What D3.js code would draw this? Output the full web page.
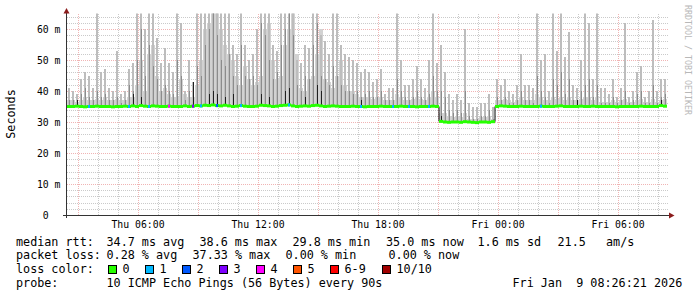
<!DOCTYPE html>
<html>
<head>
<meta charset="utf-8">
<script src="https://cdn.jsdelivr.net/npm/d3@7"></script>
<style>
  html, body { margin: 0; padding: 0; background: #fff; }
  svg text { font-family: "DejaVu Sans Mono", monospace; white-space: pre; }
</style>
</head>
<body>
<div id="chart"></div>
<script>
// 30 hours, one bin every 12 minutes (150 bins)
const startTime = new Date(Date.UTC(2026, 0, 8, 2, 27));
const endTime = new Date(Date.UTC(2026, 0, 9, 8, 27));
const binMinutes = 12;

// median rtt per bin (ms)
const medianRtt = [
  35.0,35.0,35.1,35.0,34.9,35.0,35.0,35.1,35.0,35.0,
  35.0,34.9,35.0,35.0,35.1,35.0,35.2,35.0,35.3,35.1,
  35.0,35.2,35.1,35.0,35.0,35.1,35.0,35.0,35.0,35.2,
  35.0,35.1,35.3,35.2,35.4,35.3,35.5,35.3,35.2,35.4,
  35.2,35.0,35.1,35.3,35.1,35.0,35.0,35.1,35.4,35.3,
  35.2,35.0,35.1,35.3,35.4,35.5,35.2,35.0,35.1,35.2,
  35.1,35.3,35.4,35.2,35.0,35.1,35.2,35.1,35.0,35.0,
  35.0,35.1,35.0,35.0,34.9,35.0,35.0,35.0,35.1,35.0,
  35.0,35.0,35.0,35.1,35.0,35.0,35.0,34.9,35.0,35.0,
  35.0,35.1,35.0,30.2,30.0,29.9,30.0,30.0,29.9,30.1,
  30.0,29.9,29.8,30.0,30.0,29.9,30.1,35.0,35.2,35.1,
  35.0,35.0,35.0,35.1,35.0,35.0,35.0,35.0,35.1,35.0,
  35.0,35.0,35.1,35.2,35.0,35.0,35.0,35.0,35.1,35.0,
  35.0,35.1,35.0,35.0,35.0,35.0,35.0,34.9,35.0,35.0,
  35.0,35.0,35.0,35.1,35.0,35.0,35.0,35.0,35.3,35.1
];

// dense low smoke per bin (ms)
const smokeBase = [
  37,37,36.5,37,38,37,37,37.5,37,38,
  37,37,37.5,37,37,38,38,42,50,40,
  52,55,45,40,41,39,38,38,44,39,
  38,38,42,50,60,62,66,66,60,55,
  52,50,45,42,48,44,42,43,45,60,
  62,50,44,45,55,60,66,52,41,40,
  44,45,52,60,44,43,41,45,50,42,
  40,40,39,38,38,38,37.5,38,38,37,
  37,37,39,38,37,37,37.5,38,37.5,37,
  38,40,38,33,33,32,31.5,32,31.5,33,
  31,31,31,31.5,31.5,32,31,37,37,37.5,
  37,36.5,37,38,37,37,37,39,38,37,
  37,38,37.5,38,37,38,37,37,37.5,38,
  38,37,38,36.5,36.5,36.5,37,36.5,37,37.5,
  36.5,36.5,37,37.5,36.5,36.5,37.5,36.5,37,37.5
];

// highest ping per bin (ms)
const smokeMax = [
  41,40,39,44,46,45,41,66,46,47,
  41,40,53,39,40,47,49,66,66,60,
  66,66,57,49,54,49,46,66,62,40,
  50,43,66,66,66,66,66,66,66,66,
  66,55,52,66,55,50,52,60,66,66,
  66,55,53,66,66,66,66,50,49,55,
  54,66,66,58,56,52,66,66,55,52,
  51,50,49,46,47,46,43,44,47,39,
  41,41,66,50,42,42,44,48,44,41,
  50,66,49,55,46,39,37,39,37,60,
  36,35,35,36,36,39,35,44,42,44,
  40,39,42,52,42,42,41,66,50,52,
  40,66,53,66,51,59,42,41,50,66,
  62,44,66,41,41,39,44,38,41,62,
  38,40,46,48,38,40,63,40,44,44
];

// middle ping level per bin (ms)
const smokeMid = [
  37,37,36,39,41,38,37,40,38,39,
  37,37,38,36,37,42,40,50,60,45,
  55,48,44,40,42,40,39,50,45,37,
  40,43,48,45,55,60,66,58,50,48,
  52,45,42,55,45,44,45,42,62,58,
  50,44,46,55,60,66,58,42,40,45,
  44,55,62,45,44,42,48,45,42,40,
  40,39,40,38,39,40,38,38,40,37,
  37,37,44,40,38,37,38,40,38,37,
  39,45,40,40,38,34,33,34,33,40,
  32,31,31,32,32,34,31,38,37,38,
  36,36,37,40,37,37,36,45,40,38,
  36,44,42,46,39,44,37,36,40,42,
  44,38,42,36,36,36,38,36,37,40,
  36,37,39,40,36,36,42,36,38,39
];

// dark marks just above the median
const darkBins = [2, 16, 18, 31, 35, 36, 37, 39, 41, 48, 50, 54, 55, 59, 62, 63, 73, 93, 127, 148];
const darkVals = [37, 39, 38, 43, 39, 40, 39, 38, 39, 39, 38, 40, 41, 38, 42, 40, 37, 32, 37, 37];

// bins with packet loss (index into lossColors)
const lossBins = [5, 15, 20, 25, 31, 33, 37, 43, 55, 73, 81, 85, 90, 118];
const lossCats = [1, 1, 1, 4, 3, 1, 2, 1, 1, 1, 1, 1, 1, 1];

const lossLabels = ["0", "1", "2", "3", "4", "5", "6-9", "10/10"];
const lossColors = ["#26ff00", "#00b8ff", "#0059ff", "#7e00ff", "#ff00ff", "#ff5500", "#ff0000", "#a10000"];

const yTicks = [0, 10, 20, 30, 40, 50, 60];
const yTickLabels = ["0  ", "10 m", "20 m", "30 m", "40 m", "50 m", "60 m"];

const W = 697, H = 297;
const svg = d3.select("#chart").append("svg").attr("width", W).attr("height", H);

const x = d3.scaleUtc().domain([startTime, endTime]).range([67, 667]);
const y = d3.scaleLinear().domain([0, 65]).range([215, 13.5]);

const bins = medianRtt.map((m, i) => ({
  t0: d3.utcMinute.offset(startTime, binMinutes * i),
  t1: d3.utcMinute.offset(startTime, binMinutes * (i + 1)),
  m, base: smokeBase[i], max: smokeMax[i], mid: smokeMid[i]
}));

svg.append("defs").append("clipPath").attr("id", "plot")
  .append("rect").attr("x", 67).attr("y", 13.5).attr("width", 600).attr("height", 202);

// grid
const grid = svg.append("g").attr("shape-rendering", "crispEdges");
const minorY = d3.range(0, 66, 2).filter(v => v % 10 !== 0);
grid.selectAll(".gy").data(minorY).join("line")
  .attr("x1", 67).attr("x2", 668).attr("y1", d => Math.round(y(d)) + 0.5).attr("y2", d => Math.round(y(d)) + 0.5)
  .attr("stroke", "#cacaca").attr("stroke-dasharray", "1,1");
const minorX = d3.utcHour.every(1).range(startTime, endTime).filter(d => d.getUTCHours() % 3 !== 0);
grid.selectAll(".gx").data(minorX).join("line")
  .attr("x1", d => Math.round(x(d)) + 0.5).attr("x2", d => Math.round(x(d)) + 0.5).attr("y1", 14).attr("y2", 215)
  .attr("stroke", "#cacaca").attr("stroke-dasharray", "1,1");
grid.selectAll(".my").data(yTicks.slice(1)).join("line")
  .attr("x1", 67).attr("x2", 668).attr("y1", d => Math.round(y(d)) + 0.5).attr("y2", d => Math.round(y(d)) + 0.5)
  .attr("stroke", "#f0b4b4").attr("stroke-dasharray", "1,1");
const majorX = d3.utcHour.every(3).range(startTime, endTime);
grid.selectAll(".mx").data(majorX).join("line")
  .attr("x1", d => Math.round(x(d)) + 0.5).attr("x2", d => Math.round(x(d)) + 0.5).attr("y1", 14).attr("y2", 215)
  .attr("stroke", "#f0b4b4").attr("stroke-dasharray", "1,1");

// smoke
const smoke = svg.append("g").attr("clip-path", "url(#plot)").attr("shape-rendering", "crispEdges");
smoke.selectAll(".base").data(bins).join("rect")
  .attr("x", d => x(d.t0)).attr("width", d => x(d.t1) - x(d.t0))
  .attr("y", d => y(d.base)).attr("height", d => Math.max(0, y(d.m) - y(d.base)))
  .attr("fill", "#d2d2d2");
smoke.selectAll(".max").data(bins).join("rect")
  .attr("x", d => x(d.t0) + 1).attr("width", 2)
  .attr("y", d => y(d.max)).attr("height", d => Math.max(0, y(d.m) - y(d.max)))
  .attr("fill", "#bdbdbd");
smoke.selectAll(".mid").data(bins).join("rect")
  .attr("x", d => x(d.t0) + 2).attr("width", 1)
  .attr("y", d => y(d.mid)).attr("height", d => Math.max(0, y(d.m) - y(d.mid)))
  .attr("fill", "#8c8c8c");
smoke.selectAll(".dark").data(darkBins).join("rect")
  .attr("x", b => x(bins[b].t0) + 2).attr("width", 1)
  .attr("y", (b, i) => y(darkVals[i])).attr("height", (b, i) => y(bins[b].m) - y(darkVals[i]))
  .attr("fill", "#202020");

// median
const stepPts = bins.map(d => [d.t0, d.m]).concat([[bins[bins.length - 1].t1, bins[bins.length - 1].m]]);
svg.append("path")
  .attr("d", d3.line().x(d => x(d[0])).y(d => y(d[1])).curve(d3.curveStepAfter)(stepPts))
  .attr("fill", "none").attr("stroke", "#000").attr("stroke-width", 1);
svg.append("g").selectAll("rect").data(bins).join("rect")
  .attr("x", d => x(d.t0)).attr("width", d => x(d.t1) - x(d.t0))
  .attr("y", d => y(d.m) - 1.5).attr("height", 3)
  .attr("fill", lossColors[0]);
svg.append("g").selectAll("rect").data(lossBins).join("rect")
  .attr("x", b => x(bins[b].t0) + 1).attr("width", 2)
  .attr("y", b => y(bins[b].m) - 1.5).attr("height", 3)
  .attr("fill", (b, i) => lossColors[lossCats[i]]);

// axes
svg.append("line").attr("x1", 66.5).attr("x2", 66.5).attr("y1", 12).attr("y2", 218).attr("stroke", "#333");
svg.append("line").attr("x1", 63).attr("x2", 670).attr("y1", 215.5).attr("y2", 215.5).attr("stroke", "#333");
svg.append("path").attr("d", "M63.5,13.5L69.5,13.5L66.5,8Z").attr("fill", "#8b1c1c");
svg.append("path").attr("d", "M669,212.5L669,218.5L674.5,215.5Z").attr("fill", "#8b1c1c");

svg.append("g").selectAll("text").data(yTicks).join("text")
  .attr("x", 60.5).attr("y", d => y(d) + 3.5).attr("text-anchor", "end")
  .style("font-size", "9.8px").attr("fill", "#000")
  .text((d, i) => yTickLabels[i]);

const labelTimes = d3.utcHour.every(6).range(startTime, endTime);
svg.append("g").selectAll("text").data(labelTimes).join("text")
  .attr("x", d => x(d)).attr("y", 228).attr("text-anchor", "middle")
  .style("font-size", "9.8px").attr("fill", "#000")
  .text(d3.utcFormat("%a %H:%M"));

svg.append("text").attr("transform", "translate(15,114) rotate(-90)")
  .attr("text-anchor", "middle").style("font-size", "11.75px").text("Seconds");

svg.append("text").attr("transform", "translate(685,5) rotate(90)")
  .style("font-size", "8.3px").attr("fill", "#b8b8b8").text("RRDTOOL / TOBI OETIKER");

// legend
const legend = svg.append("g").style("font-size", "11.75px").attr("fill", "#000");
function put(str, px, py) { legend.append("text").attr("x", px).attr("y", py).text(str); }
const rows = [245.7, 259.4, 273.1, 286.8];
put("median rtt:", 16, rows[0]);
put("34.7 ms avg", 106.5, rows[0]);
put("38.6 ms max", 199.5, rows[0]);
put("29.8 ms min", 292.5, rows[0]);
put("35.0 ms now", 386, rows[0]);
put("1.6 ms sd", 477.5, rows[0]);
put("21.5", 557.5, rows[0]);
put("am/s", 606, rows[0]);
put("packet loss:", 16, rows[1]);
put("0.28 % avg", 106.5, rows[1]);
put("37.33 % max", 192.5, rows[1]);
put("0.00 % min", 285.5, rows[1]);
put("0.00 % now", 388.5, rows[1]);
put("loss color:", 16, rows[2]);
const swatchX = [108, 145, 182, 219, 256, 293, 330, 382];
lossLabels.forEach((lab, i) => {
  legend.append("rect").attr("x", swatchX[i] + 0.5).attr("y", 265.5).attr("width", 8).attr("height", 8)
    .attr("fill", lossColors[i]).attr("stroke", "#000").attr("stroke-width", 1);
  put(lab, swatchX[i] + 14.5, rows[2]);
});
put("probe:", 16, rows[3]);
put("10 ICMP Echo Pings (56 Bytes) every 90s", 106.5, rows[3]);
put("Fri Jan  9 08:26:21 2026", 512.5, rows[3]);
</script>
</body>
</html>
